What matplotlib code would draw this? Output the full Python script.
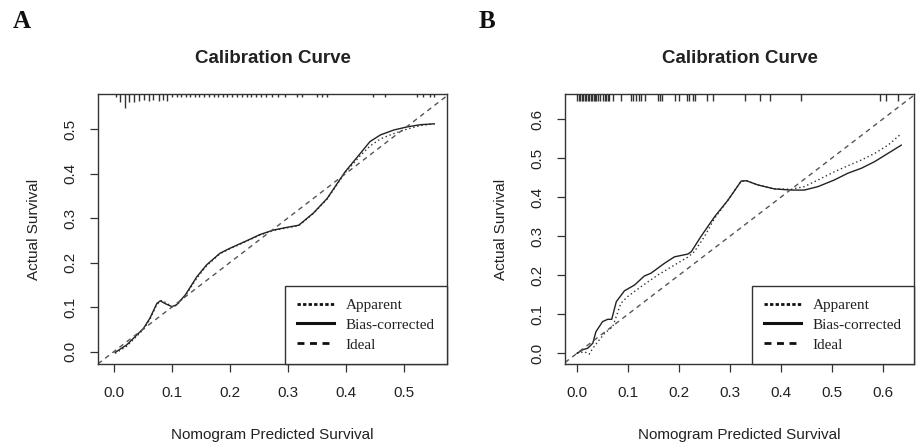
import matplotlib
matplotlib.use("Agg")
import matplotlib.pyplot as plt
from matplotlib.lines import Line2D

plt.rcParams['font.family'] = ['Liberation Sans', 'DejaVu Sans']

# ---- panel A data ----
a_bias_x = [0.002, 0.022, 0.051, 0.062, 0.074, 0.080, 0.088, 0.100, 0.108, 0.123, 0.143, 0.160,
            0.183, 0.200, 0.229, 0.252, 0.275, 0.298, 0.319, 0.344, 0.368, 0.399, 0.425, 0.442,
            0.460, 0.483, 0.506, 0.529, 0.553]
a_bias_y = [-0.002, 0.015, 0.052, 0.075, 0.108, 0.114, 0.108, 0.101, 0.105, 0.127, 0.168, 0.195,
            0.221, 0.232, 0.249, 0.263, 0.273, 0.279, 0.284, 0.311, 0.344, 0.404, 0.445, 0.472,
            0.487, 0.498, 0.505, 0.510, 0.512]
a_app_x = [0.002, 0.022, 0.051, 0.062, 0.074, 0.083, 0.092, 0.100, 0.108, 0.123, 0.143, 0.160,
           0.183, 0.200, 0.229, 0.252, 0.275, 0.298, 0.319, 0.344, 0.368, 0.399, 0.425, 0.442,
           0.460, 0.483, 0.506, 0.529, 0.553]
a_app_y = [-0.004, 0.012, 0.050, 0.072, 0.106, 0.115, 0.108, 0.100, 0.104, 0.125, 0.165, 0.193,
           0.220, 0.231, 0.248, 0.262, 0.272, 0.278, 0.283, 0.310, 0.343, 0.402, 0.440, 0.462,
           0.478, 0.490, 0.500, 0.508, 0.512]
a_rug_x = [0.003, 0.010, 0.019, 0.026, 0.035, 0.044, 0.052, 0.060, 0.068, 0.077, 0.084, 0.092,
           0.100, 0.108, 0.116, 0.124, 0.132, 0.140, 0.147, 0.156, 0.164, 0.172, 0.180, 0.188,
           0.196, 0.204, 0.212, 0.221, 0.229, 0.237, 0.245, 0.253, 0.262, 0.272, 0.284, 0.295,
           0.316, 0.324, 0.350, 0.359, 0.367, 0.448, 0.468, 0.523, 0.534, 0.545, 0.553]
a_rug_n = [1, 3, 5, 3, 2.7, 2.4, 2, 2.4, 2, 2.4, 2, 2.4,
           1, 1, 1, 1, 1, 1, 1, 1, 1, 1, 1, 1,
           1, 1, 1, 1, 1, 1, 1, 1, 1, 1, 1, 1,
           1, 1, 1, 1, 1, 1, 1, 1, 1, 1, 1]

# ---- panel B data ----
b_bias_x = [0.000, 0.011, 0.021, 0.031, 0.037, 0.050, 0.060, 0.068, 0.077, 0.093, 0.113, 0.132,
            0.145, 0.171, 0.191, 0.217, 0.224, 0.243, 0.270, 0.296, 0.322, 0.332, 0.355, 0.387,
            0.420, 0.446, 0.473, 0.505, 0.531, 0.558, 0.584, 0.610, 0.636]
b_bias_y = [0.000, 0.009, 0.013, 0.026, 0.055, 0.081, 0.087, 0.087, 0.132, 0.160, 0.175, 0.198,
            0.205, 0.230, 0.247, 0.254, 0.260, 0.299, 0.350, 0.392, 0.441, 0.442, 0.431, 0.421,
            0.418, 0.418, 0.427, 0.444, 0.461, 0.474, 0.491, 0.512, 0.533]
b_app_x = [0.000, 0.014, 0.024, 0.031, 0.041, 0.054, 0.070, 0.086, 0.099, 0.126, 0.158, 0.191,
           0.217, 0.230, 0.250, 0.270, 0.296, 0.322, 0.332, 0.355, 0.387, 0.420, 0.446, 0.473,
           0.505, 0.531, 0.558, 0.584, 0.610, 0.633]
b_app_y = [0.000, 0.004, -0.002, 0.013, 0.030, 0.051, 0.068, 0.128, 0.145, 0.171, 0.200, 0.226,
           0.246, 0.260, 0.299, 0.346, 0.392, 0.441, 0.442, 0.431, 0.421, 0.420, 0.427, 0.444,
           0.465, 0.480, 0.495, 0.512, 0.533, 0.559]
b_rug_x = [0.000, 0.003, 0.006, 0.009, 0.012, 0.015, 0.018, 0.021, 0.024, 0.027, 0.030, 0.033,
           0.036, 0.038, 0.041, 0.046, 0.050, 0.054, 0.057, 0.060, 0.063, 0.071, 0.087, 0.105,
           0.110, 0.115, 0.121, 0.126, 0.133, 0.159, 0.162, 0.166, 0.192, 0.200, 0.215, 0.220,
           0.227, 0.231, 0.254, 0.266, 0.329, 0.359, 0.378, 0.440, 0.594, 0.607, 0.630]

xlabel = "Nomogram Predicted Survival"
ylabel = "Actual Survival"
title = "Calibration Curve"
legend_labels = ["Apparent", "Bias-corrected", "Ideal"]

txt = '#222222'
serif = ['Liberation Serif', 'DejaVu Serif']

fig = plt.figure(figsize=(9.17, 4.44), dpi=100)
ax_a = fig.add_axes([98 / 917, 1 - 364 / 444, 349 / 917, 270 / 444])
ax_b = fig.add_axes([565 / 917, 1 - 364 / 444, 349 / 917, 270 / 444])


def draw(ax, bx, by, apx, apy, rug_x, rug_h, xlim, ylim, ticks):
    ax.plot(apx, apy, color='#333333', lw=1.0, ls=(0, (1, 2)))
    ax.plot(bx, by, color='#222222', lw=1.0)
    ax.axline((0, 0), slope=1, color='#555555', lw=1.0, ls=(0, (3.5, 3)))
    ax.vlines(rug_x, [1 - h for h in rug_h], 1, transform=ax.get_xaxis_transform(),
              color='#333333', lw=1.0)
    ax.set_xlim(*xlim)
    ax.set_ylim(*ylim)
    ax.set_xticks(ticks)
    ax.set_yticks(ticks)
    ax.set_xticklabels([f"{t:.1f}" for t in ticks])
    ax.set_yticklabels([f"{t:.1f}" for t in ticks], rotation=90, va='center')
    ax.tick_params(length=6, width=0.9, colors='#333333', labelcolor=txt, labelsize=11, pad=9)
    ax.tick_params(axis='x', pad=10)
    for s in ax.spines.values():
        s.set_color('#333333')
        s.set_linewidth(1.0)
    ax.set_xlabel(xlabel, fontsize=11, color=txt, labelpad=20)
    ax.set_ylabel(ylabel, fontsize=11, color=txt, labelpad=16)
    ax.set_title(title, fontsize=13.5, fontweight='bold', color=txt, pad=22)
    handles = [Line2D([], [], color='#111111', lw=2, ls=(0, (1.2, 0.8))),
               Line2D([], [], color='#111111', lw=2.2),
               Line2D([], [], color='#111111', lw=2, ls=(0, (2.5, 2)))]
    leg = ax.legend(handles, legend_labels, loc='lower right', bbox_to_anchor=(1, 0),
                    borderaxespad=0, fancybox=False, framealpha=1, edgecolor='#333333',
                    prop={'family': serif, 'size': 11}, handlelength=2.4, handletextpad=0.8,
                    labelspacing=0.41, borderpad=0.8)
    leg.get_frame().set_linewidth(1.0)
    for t in leg.get_texts():
        t.set_color(txt)


ticks_a = [0.0, 0.1, 0.2, 0.3, 0.4, 0.5]
ticks_b = [0.0, 0.1, 0.2, 0.3, 0.4, 0.5, 0.6]
draw(ax_a, a_bias_x, a_bias_y, a_app_x, a_app_y, a_rug_x, [n * 2.8 / 270 for n in a_rug_n],
     (-0.0276, 0.575), (-0.028, 0.579), ticks_a)
draw(ax_b, b_bias_x, b_bias_y, b_app_x, b_app_y, b_rug_x, [7 / 270] * len(b_rug_x),
     (-0.0236, 0.661), (-0.0274, 0.664), ticks_b)

fig.text(13 / 917, 1 - 21 / 444, "A", fontfamily=serif, fontweight='bold', fontsize=18,
         va='center', ha='left', color='#111111')
fig.text(479 / 917, 1 - 21 / 444, "B", fontfamily=serif, fontweight='bold', fontsize=18,
         va='center', ha='left', color='#111111')

fig.savefig("out.png", dpi=100)
